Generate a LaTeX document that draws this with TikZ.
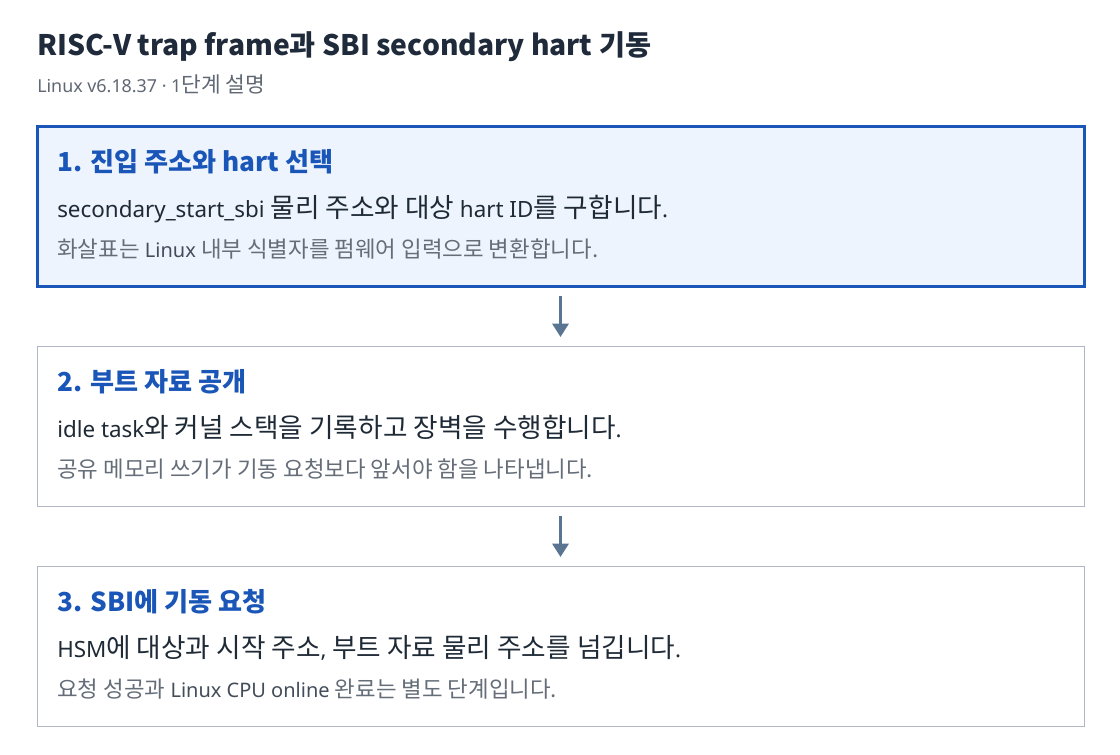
\documentclass[tikz,border=0pt]{standalone}
\usepackage{fontspec}
\setmainfont{Noto Sans}
\newfontfamily\cjk{Noto Sans CJK KR}
\newfontfamily\krA[Scale=1.19]{Noto Sans CJK KR}
\newfontfamily\krB[Scale=1.2]{Noto Sans CJK KR}
\newfontfamily\krC[Scale=1.12]{Noto Sans CJK KR}
\let\Kf\krA
\newcommand\K[1]{{\Kf #1}}
\usetikzlibrary{arrows.meta}
\definecolor{titlec}{HTML}{1F2A3A}
\definecolor{subc}{HTML}{5F6873}
\definecolor{notekr}{HTML}{646D78}
\definecolor{notelat}{HTML}{434D5A}
\definecolor{bluec}{HTML}{1A56B8}
\definecolor{fillc}{HTML}{EEF4FD}
\definecolor{greyb}{HTML}{AFB7C4}
\definecolor{mainc}{HTML}{1F2A37}
\definecolor{arrc}{HTML}{5A7592}
\newcommand\noteK{\krC\color{notekr}}
\tikzset{
  stepbox/.style={draw=greyb, line width=0.75pt, fill=white, rectangle, minimum width=1047*0.75pt, minimum height=160*0.75pt, inner sep=0pt, outer sep=0pt},
  activebox/.style={stepbox, draw=bluec, line width=2.25pt, fill=fillc},
  headt/.style={anchor=base west, inner sep=0pt, text=bluec, font=\cjk\bfseries\fontsize{19.6pt}{22pt}\selectfont},
  maint/.style={anchor=base west, inner sep=0pt, text=mainc, font=\let\Kf\krA\fontsize{16.8pt}{20pt}\selectfont},
  notet/.style={anchor=base west, inner sep=0pt, text=notelat, font=\let\Kf\noteK\fontsize{15pt}{17pt}\selectfont},
  arr/.style={draw=arrc, line width=2.25pt, -{Triangle[width=12pt,length=10pt]}, shorten <=7.5pt, shorten >=6.75pt}
}
\begin{document}
\begin{tikzpicture}[x=0.75pt,y=-0.75pt]
\useasboundingbox[fill=white] (0,0) rectangle (1120,754);
\node[anchor=base west, inner sep=0pt, text=titlec, font=\cjk\bfseries\fontsize{21.2pt}{24pt}\selectfont] (title) at (37,55) {RISC-V trap frame과 SBI secondary hart 기동};
\node[anchor=base west, inner sep=0pt, text=subc, font=\let\Kf\krB\fontsize{13.4pt}{15pt}\selectfont] (sub) at (37,92) {Linux v6.18.37 · 1\K{단계 설명}};

\node[activebox, anchor=north west] (b1) at (37,126) {};
\node[headt] (h1) at (57,171) {1. 진입 주소와 hart 선택};
\node[maint] (m1) at (57,217) {secondary\_start\_sbi \K{물리 주소와 대상} hart ID\K{를 구합니다}.};
\node[notet] (n1) at (57,257) {\K{화살표는} Linux \K{내부 식별자를 펌웨어 입력으로 변환합니다.}};

\node[stepbox, anchor=north west] (b2) at (37,346) {};
\node[headt] (h2) at (57,391) {2. 부트 자료 공개};
\node[maint] (m2) at (57,437) {idle task\K{와 커널 스택을 기록하고 장벽을 수행합니다}.};
\node[notet] (n2) at (57,477) {\K{공유 메모리 쓰기가 기동 요청보다 앞서야 함을 나타냅니다.}};

\node[stepbox, anchor=north west] (b3) at (37,566) {};
\node[headt] (h3) at (57,611) {3. SBI에 기동 요청};
\node[maint] (m3) at (57,657) {HSM\K{에 대상과 시작 주소}, \K{부트 자료 물리 주소를 넘깁니다}.};
\node[notet] (n3) at (57,697) {\K{요청 성공과} Linux CPU online \K{완료는 별도 단계입니다.}};

\draw[arr] (b1.south) -- (b2.north);
\draw[arr] (b2.south) -- (b3.north);
\end{tikzpicture}
\end{document}
